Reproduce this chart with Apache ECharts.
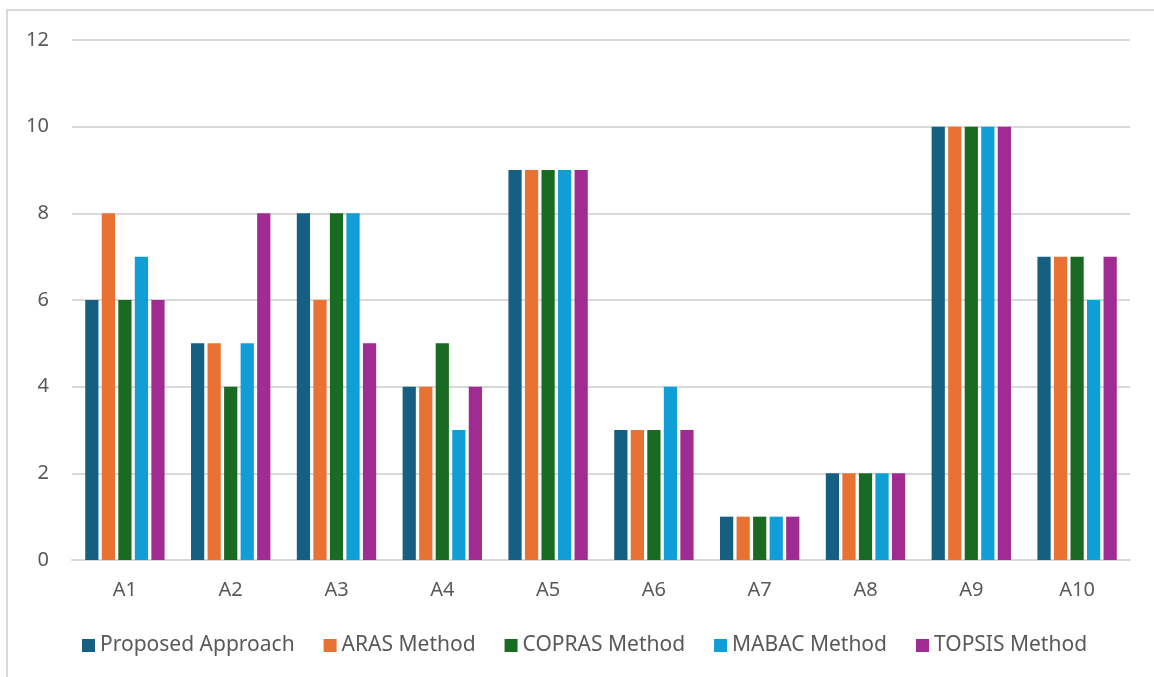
<!DOCTYPE html>
<html>
<head>
<meta charset="utf-8">
<script src="https://cdn.jsdelivr.net/npm/echarts@6/dist/echarts.min.js"></script>
<style>
  html, body { margin: 0; padding: 0; background: #fff; }
  #chart { width: 1154px; height: 677px; }
</style>
</head>
<body>
<div id="chart"></div>
<script>
const categories = ['A1', 'A2', 'A3', 'A4', 'A5', 'A6', 'A7', 'A8', 'A9', 'A10'];
const proposed = [6, 5, 8, 4, 9, 3, 1, 2, 10, 7];
const aras     = [8, 5, 6, 4, 9, 3, 1, 2, 10, 7];
const copras   = [6, 4, 8, 5, 9, 3, 1, 2, 10, 7];
const mabac    = [7, 5, 8, 3, 9, 4, 1, 2, 10, 6];
const topsis   = [6, 8, 5, 4, 9, 3, 1, 2, 10, 7];
const yTicks = [0, 2, 4, 6, 8, 10, 12];

const seriesDefs = [
  { name: 'Proposed Approach', data: proposed, color: '#156082' },
  { name: 'ARAS Method',       data: aras,     color: '#E97132' },
  { name: 'COPRAS Method',     data: copras,   color: '#196B24' },
  { name: 'MABAC Method',      data: mabac,    color: '#0F9ED5' },
  { name: 'TOPSIS Method',     data: topsis,   color: '#A02B93' }
];

const font = '"Noto Sans", "Liberation Sans", sans-serif';
const chart = echarts.init(document.getElementById('chart'), null, { renderer: 'canvas' });

chart.setOption({
  animation: false,
  backgroundColor: '#ffffff',
  textStyle: { fontFamily: font },
  graphic: [{
    type: 'rect',
    shape: { x: 7, y: 10, width: 1200, height: 720 },
    style: { fill: 'none', stroke: '#d9d9d9', lineWidth: 2 },
    silent: true
  }],
  grid: { left: 72, right: 24, top: 40, bottom: 117, containLabel: false },
  legend: {
    top: 630,
    left: 77,
    itemWidth: 13,
    itemHeight: 13,
    itemGap: 29,
    icon: 'rect',
    textStyle: { fontSize: 21, color: '#595959', fontFamily: font },
    data: seriesDefs.map(s => s.name)
  },
  xAxis: {
    type: 'category',
    data: categories,
    axisLine: { lineStyle: { color: '#d9d9d9', width: 2 } },
    axisTick: { show: false },
    axisLabel: { fontSize: 20, color: '#595959', margin: 20, fontFamily: font }
  },
  yAxis: {
    type: 'value',
    min: yTicks[0],
    max: yTicks[yTicks.length - 1],
    interval: 2,
    axisLine: { show: false },
    axisTick: { show: false },
    splitLine: { lineStyle: { color: '#d9d9d9', width: 2 } },
    axisLabel: { fontSize: 20, color: '#595959', margin: 23, fontFamily: font }
  },
  series: seriesDefs.map(s => ({
    name: s.name,
    type: 'bar',
    data: s.data,
    barGap: '25%',
    barCategoryGap: '25%',
    itemStyle: { color: s.color },
    emphasis: { disabled: true }
  }))
});
</script>
</body>
</html>
